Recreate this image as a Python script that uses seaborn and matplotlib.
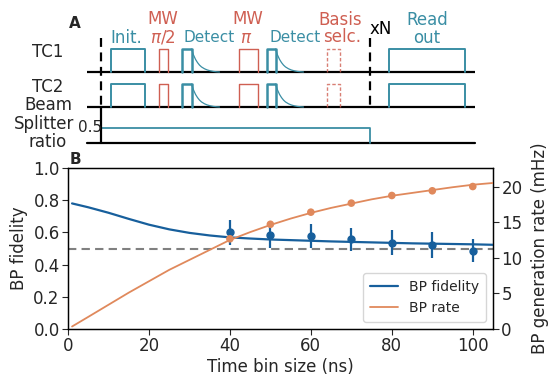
import numpy as np
import pandas as pd
import matplotlib
matplotlib.use("Agg")
import matplotlib.pyplot as plt
import seaborn as sns

# ---------------- data: panel B ----------------
bins_ns = [40, 50, 60, 70, 80, 90, 100]
fidelity_meas = [0.600, 0.584, 0.578, 0.557, 0.536, 0.522, 0.486]
fidelity_err = [0.080, 0.080, 0.072, 0.072, 0.076, 0.078, 0.072]
rate_meas = [12.66, 14.70, 16.40, 17.67, 18.74, 19.40, 20.00]

curve_x = [1, 5, 10, 15, 20, 25, 30, 35, 40, 45, 50, 55, 60, 65, 70, 75, 80, 85, 90, 95, 100, 105]
fidelity_curve = [0.780, 0.756, 0.722, 0.684, 0.648, 0.619, 0.597, 0.581, 0.569, 0.562, 0.556, 0.552,
                  0.548, 0.544, 0.541, 0.538, 0.535, 0.532, 0.530, 0.528, 0.526, 0.523]
rate_curve = [0.35, 1.7, 3.4, 5.1, 6.7, 8.3, 9.7, 11.1, 12.5, 13.6, 14.6, 15.5, 16.3, 17.0, 17.6,
              18.2, 18.7, 19.1, 19.5, 19.9, 20.25, 20.5]
threshold = 0.5

# ---------------- data: panel A (schematic timing, in diagram units) ----------------
teal_pulses = [(111, 145), (389, 465)]          # Init., Read out
red_pulses = [(158.5, 168), (238.5, 257.5)]     # MW pi/2, MW pi
detect_pulses = [(181.5, 191.5), (266.5, 275.5)]
dashed_pulse = (327, 340)                        # Basis selc.
decay_offset = [0, 2, 4, 6, 8, 10, 13, 16, 19, 22, 25, 28]
decay_level = [1.0, 0.74, 0.55, 0.41, 0.30, 0.22, 0.14, 0.085, 0.05, 0.025, 0.01, 0.0]
seq_start, seq_end = 101, 370
line_start, line_end = 87, 475
bs_level = 0.5

TEAL = "#3a8ea4"
RED = "#cf5f52"
BLUE = "#175f9c"
ORANGE = "#e0895c"

sns.set_theme(style="ticks")
plt.rcParams['font.family'] = ['DejaVu Sans']
plt.rcParams['font.size'] = 12

W, H = 554, 375
fig = plt.figure(figsize=(W / 100, H / 100), dpi=100)

# ---------- panel A ----------
axA = fig.add_axes([0, 0, 1, 1])
axA.set_xlim(0, W)
axA.set_ylim(H, 0)
axA.axis("off")

rows = [(72, 49), (107, 84)]   # (baseline, top) for TC1, TC2
for base, top in rows:
    amp = base - top
    axA.plot([line_start, line_end], [base, base], color="black", lw=1.6, solid_capstyle="butt")
    for s, e in teal_pulses:
        axA.plot([s, s, e, e], [base, top, top, base], color=TEAL, lw=1.4)
    for s, e in red_pulses:
        axA.plot([s, s, e, e], [base, top, top, base], color=RED, lw=1.0)
    for s, e in detect_pulses:
        axA.plot([s, s, e, e], [base, top, top, base], color=TEAL, lw=1.8)
        dx = [e + o for o in decay_offset]
        dy = [base - amp * l for l in decay_level]
        axA.plot(dx, dy, color=TEAL, lw=0.9)
    s, e = dashed_pulse
    axA.plot([s, s, e, e], [base, top, top, base], color=RED, lw=1.0, ls=(0, (2.5, 1.5)), alpha=0.8)

# beam splitter row
bs_base, bs_top = 143, 128
axA.plot([line_start, line_end], [bs_base, bs_base], color="black", lw=1.6)
axA.plot([seq_start, seq_end, seq_end], [bs_top, bs_top, bs_base], color=TEAL, lw=1.3)
axA.plot([seq_start, seq_start], [bs_base, 107], color="black", lw=1.6)

# dashed sequence markers
axA.plot([seq_start, seq_start], [38, 107], color="black", lw=1.6, ls=(0, (4, 2.5)))
axA.plot([seq_end, seq_end], [38, 107], color="black", lw=1.6, ls=(0, (4, 2.5)))

fs = 12
fsd = 11
axA.text(75, 24, "A", fontsize=11, fontweight="bold", ha="center", va="center")
axA.text(48, 52, "TC1", fontsize=fs, ha="center", va="center")
axA.text(48, 87, "TC2", fontsize=fs, ha="center", va="center")
axA.text(48, 105, "Beam", fontsize=fs, ha="center", va="center")
axA.text(44, 124, "Splitter", fontsize=fs, ha="center", va="center")
axA.text(48, 142, "ratio", fontsize=fs, ha="center", va="center")
axA.text(90, 128, "0.5", fontsize=11, ha="center", va="center")

axA.text(126, 38, "Init.", fontsize=fs, color=TEAL, ha="center", va="center")
axA.text(163, 19, "MW", fontsize=fs, color=RED, ha="center", va="center")
axA.text(162.5, 38, r"$\pi$/2", fontsize=fs, color=RED, ha="center", va="center")
axA.text(209, 38, "Detect", fontsize=fsd, color=TEAL, ha="center", va="center")
axA.text(248, 19, "MW", fontsize=fs, color=RED, ha="center", va="center")
axA.text(246, 38, r"$\pi$", fontsize=fs, color=RED, ha="center", va="center")
axA.text(295, 38, "Detect", fontsize=fsd, color=TEAL, ha="center", va="center")
axA.text(340, 20, "Basis", fontsize=fs, color=RED, ha="center", va="center")
axA.text(342, 37, "selc.", fontsize=fs, color=RED, ha="center", va="center")
axA.text(381, 29, "xN", fontsize=fs, color="black", ha="center", va="center")
axA.text(427, 20, "Read", fontsize=fs, color=TEAL, ha="center", va="center")
axA.text(427, 38, "out", fontsize=fs, color=TEAL, ha="center", va="center")
axA.text(75, 159, "B", fontsize=11, fontweight="bold", ha="center", va="center")

# ---------- panel B ----------
x0, x1, y0, y1 = 68, 493, 168, 329
ax = fig.add_axes([x0 / W, 1 - y1 / H, (x1 - x0) / W, (y1 - y0) / H])
ax2 = ax.twinx()

df_curve = pd.DataFrame({"t": curve_x, "fid": fidelity_curve, "rate": rate_curve})
df_pts = pd.DataFrame({"t": bins_ns, "fid": fidelity_meas, "err": fidelity_err, "rate": rate_meas})

ax.axhline(threshold, color="#808080", lw=1.5, ls=(0, (4, 2.5)), zorder=1)
sns.lineplot(data=df_curve, x="t", y="fid", ax=ax, color=BLUE, lw=1.6, label="BP fidelity", zorder=3)
ax.errorbar(df_pts["t"], df_pts["fid"], yerr=df_pts["err"], fmt="o", color=BLUE, ms=5,
            elinewidth=1.6, capsize=0, zorder=4)

sns.lineplot(data=df_curve, x="t", y="rate", ax=ax2, color=ORANGE, lw=1.3, label="BP rate", zorder=3)
sns.scatterplot(data=df_pts, x="t", y="rate", ax=ax2, color=ORANGE, s=30, edgecolor="none", zorder=4)

ax.set_xlim(0, 105)
ax.set_ylim(0, 1.0)
ax2.set_ylim(0, 22.6)
ax.set_xticks([0, 20, 40, 60, 80, 100])
ax.set_yticks([0.0, 0.2, 0.4, 0.6, 0.8, 1.0])
ax2.set_yticks([0, 5, 10, 15, 20])
ax.set_xlabel("Time bin size (ns)", fontsize=12, labelpad=2)
ax.set_ylabel("BP fidelity", fontsize=12, labelpad=4)
ax2.set_ylabel("BP generation rate (mHz)", fontsize=12, labelpad=6)
ax.tick_params(labelsize=12, length=4, width=0.8, pad=2)
ax2.tick_params(labelsize=12, length=4, width=0.8, pad=2)
for a in (ax, ax2):
    for sp in a.spines.values():
        sp.set_color("black")
        sp.set_linewidth(0.9)
        sp.set_visible(True)

if ax.get_legend():
    ax.get_legend().remove()
if ax2.get_legend():
    ax2.get_legend().remove()
h1, l1 = ax.get_legend_handles_labels()
h2, l2 = ax2.get_legend_handles_labels()
leg = ax2.legend(h1[:1] + h2[:1], ["BP fidelity", "BP rate"], loc="lower right", fontsize=10,
                 frameon=True, fancybox=True, borderpad=0.5, handlelength=2.0)
leg.get_frame().set_edgecolor("#cccccc")

fig.savefig("out.png", dpi=100)
